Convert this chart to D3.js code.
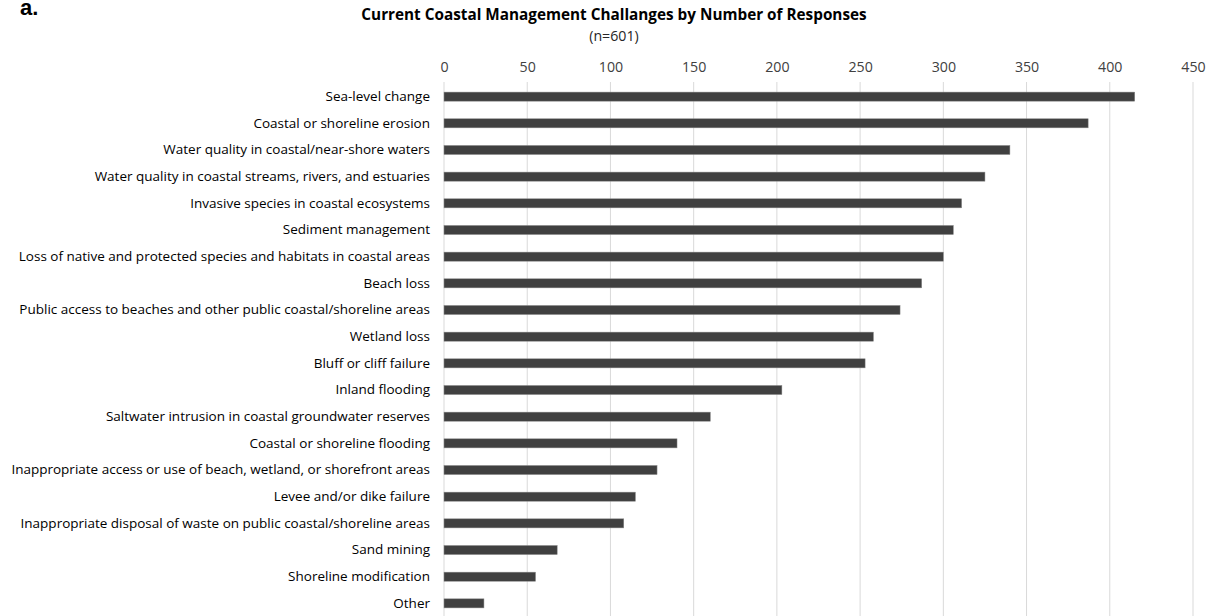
<!DOCTYPE html>
<html><head><meta charset="utf-8">
<script src="https://cdn.jsdelivr.net/npm/d3@7"></script>
<style>body{margin:0;background:#fff}svg{display:block}</style>
</head><body>
<svg id="c" width="1211" height="616"></svg>
<script>
const categories = [
  "Sea-level change",
  "Coastal or shoreline erosion",
  "Water quality in coastal/near-shore waters",
  "Water quality in coastal streams, rivers, and estuaries",
  "Invasive species in coastal ecosystems",
  "Sediment management",
  "Loss of native and protected species and habitats in coastal areas",
  "Beach loss",
  "Public access to beaches and other public coastal/shoreline areas",
  "Wetland loss",
  "Bluff or cliff failure",
  "Inland flooding ",
  "Saltwater intrusion in coastal groundwater reserves",
  "Coastal or shoreline flooding",
  "Inappropriate access or use of beach, wetland, or shorefront areas",
  "Levee and/or dike failure ",
  "Inappropriate disposal of waste on public coastal/shoreline areas",
  "Sand mining",
  "Shoreline modification",
  "Other"
];
const responses = [415, 387, 340, 325, 311, 306, 300, 287, 274, 258, 253, 203, 160, 140, 128, 115, 108, 68, 55, 24];
const tickValues = [0, 50, 100, 150, 200, 250, 300, 350, 400, 450];

const svg = d3.select("#c");
const font = "'Open Sans', sans-serif";
const x = d3.scaleLinear().domain([0, 450]).range([444, 1193]);
const y = d3.scaleBand().domain(categories).range([83.3, 616.7]).paddingInner(0.66).paddingOuter(0.33);

// gridlines
svg.append("g").selectAll("line").data(tickValues).join("line")
  .attr("x1", d => x(d)).attr("x2", d => x(d))
  .attr("y1", 82).attr("y2", 616)
  .attr("stroke", "#d9d9d9").attr("stroke-width", 1);

// top axis labels
const ax = svg.append("g").attr("transform", "translate(0,72)")
  .call(d3.axisTop(x).tickValues(tickValues).tickSize(0).tickPadding(0));
ax.select(".domain").remove();
ax.selectAll("text").attr("font-family", font).attr("font-size", 14.2).attr("fill", "#404040").attr("dy", 0);

// bars
svg.append("g").selectAll("rect").data(categories).join("rect")
  .attr("x", x(0))
  .attr("y", (d) => y(d))
  .attr("width", (d, i) => x(responses[i]) - x(0))
  .attr("height", y.bandwidth())
  .attr("fill", "#404040")
  .attr("stroke", "#8a8a8a").attr("stroke-width", 0.5);

// category labels
const yl = svg.append("g").attr("transform", "translate(430,0)")
  .call(d3.axisLeft(y).tickSize(0).tickPadding(0));
yl.select(".domain").remove();
yl.selectAll("text").attr("font-family", font).attr("font-size", 13.5).attr("fill", "#000");

// titles
svg.append("text").attr("x", 614).attr("y", 20).attr("text-anchor", "middle")
  .attr("font-family", font).attr("font-weight", "bold").attr("font-size", 15.3)
  .text("Current Coastal Management Challanges by Number of Responses");
svg.append("text").attr("x", 614).attr("y", 41).attr("text-anchor", "middle")
  .attr("font-family", font).attr("font-size", 14.2).attr("fill", "#262626")
  .text("(n=601)");
svg.append("text").attr("x", 20).attr("y", 15)
  .attr("font-family", "'Liberation Sans', Arial, sans-serif").attr("font-weight", "bold").attr("font-size", 22)
  .text("a.");
</script>
</body></html>
